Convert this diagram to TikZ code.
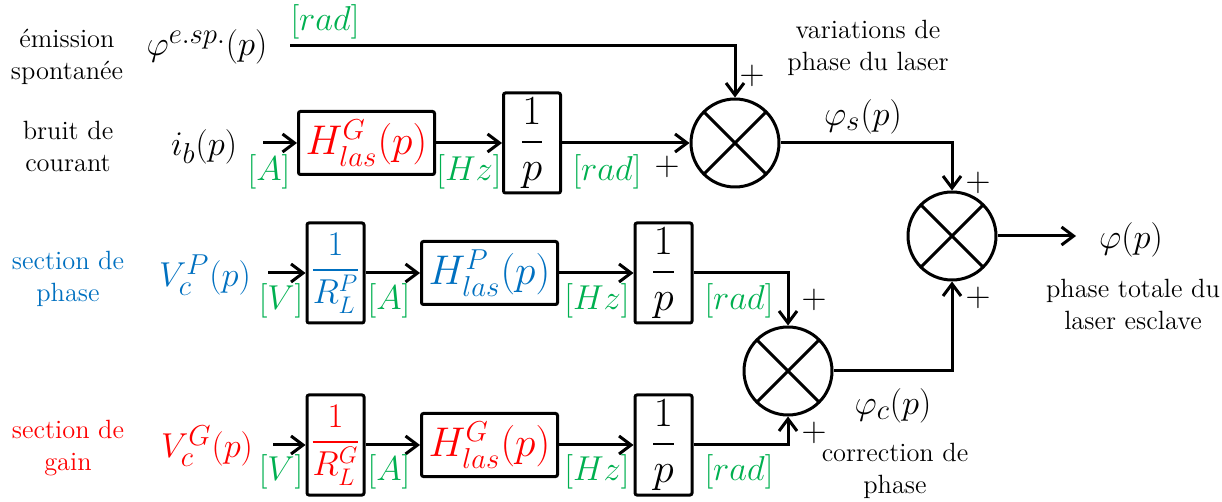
\documentclass[tikz,border=0pt]{standalone}
\usepackage{amsmath}
\usepackage{fontspec}
\usetikzlibrary{arrows.meta,positioning}
\definecolor{unit}{HTML}{00B050}
\definecolor{gain}{HTML}{FF0000}
\definecolor{phase}{HTML}{0070C0}

\begin{document}
\begin{tikzpicture}[
  x=0.5pt, y=-0.5pt,
  line width=1.5pt,
  >={Straight Barb[length=6pt,width=9pt]},
  tbox/.style={draw, rounded corners=1pt, inner sep=0pt, font=\fontsize{20}{24}\selectfont},
  hbox/.style={tbox, minimum width=68pt, minimum height=31.5pt},
  fbox/.style={tbox, minimum width=28.5pt, minimum height=50pt},
  rbox/.style={fbox, font=\fontsize{17.5}{21}\selectfont},
  sum/.style={draw, circle, minimum size=44pt, inner sep=0pt,
              path picture={\draw (path picture bounding box.north west) -- (path picture bounding box.south east)
                                  (path picture bounding box.north east) -- (path picture bounding box.south west);}},
  lbl/.style={font=\rmfamily\fontsize{13.2}{16}\selectfont, align=center},
  sig/.style={font=\fontsize{19}{22}\selectfont, inner sep=1pt},
  ulbl/.style={text=unit, font=\fontsize{19}{22}\selectfont, inner sep=0pt},
  sgn/.style={font=\fontsize{17}{20}\selectfont, inner sep=0pt}
]
  \useasboundingbox (0,0) rectangle (1222,502);

  % descriptions
  \node[lbl] (Lesp) at (67,57) {émission\\spontanée};
  \node[lbl] (Lib) at (68,146) {bruit de\\courant};
  \node[lbl, text=phase] (LP) at (68,279) {section de\\phase};
  \node[lbl, text=gain] (LG) at (68,448) {section de\\gain};
  \node[lbl] (Ls) at (868,48) {variations de\\phase du laser};
  \node[lbl] (Lt) at (1133,304) {phase totale du\\laser esclave};
  \node[lbl] (Lc) at (895,471) {correction de\\phase};

  % signals
  \node[sig] (esp) at (207,47) {$\varphi^{e.sp.}(p)$};
  \node[sig] (ib) at (204,147) {$i_b(p)$};
  \node[sig, text=phase] (VP) at (205,275) {$V_c^P(p)$};
  \node[sig, text=gain] (VG) at (207,446) {$V_c^G(p)$};
  \node[sig] (phis) at (863,117) {$\varphi_s(p)$};
  \node[sig] (phic) at (893,406) {$\varphi_c(p)$};
  \node[sig] (phi) at (1131,240) {$\varphi(p)$};

  % blocks
  \node[hbox, text=gain] (H1) at (366.5,143) {$H_{las}^{G}(p)$};
  \node[fbox] (I1) at (532,143) {$\dfrac{1}{p}$};
  \node[rbox, text=phase] (RP) at (335.5,273) {$\dfrac{1}{R_L^P}$};
  \node[hbox, text=phase] (HP) at (489.5,273) {$H_{las}^{P}(p)$};
  \node[fbox] (IP) at (663.5,273) {$\dfrac{1}{p}$};
  \node[rbox, text=gain] (RG) at (335.5,445) {$\dfrac{1}{R_L^G}$};
  \node[hbox, text=gain] (HG) at (489.5,445) {$H_{las}^{G}(p)$};
  \node[fbox] (IG) at (663.5,445) {$\dfrac{1}{p}$};

  \node[sum] (S1) at (735,143) {};
  \node[sum] (S2) at (788,371) {};
  \node[sum] (S3) at (952,236) {};

  \coordinate (esp0) at (290,46);
  \coordinate (ib0) at (263,143);
  \coordinate (VP0) at (268,273);
  \coordinate (VG0) at (273,445);
  \coordinate (out) at (1076,236);

  % connectors
  \draw[->] (esp0) -| (S1.north);
  \draw[->] (ib0) -- (H1.west);
  \draw[->] (H1) -- (I1);
  \draw[->] (I1) -- (S1);
  \draw[->] (VP0) -- (RP.west);
  \draw[->] (RP) -- (HP);
  \draw[->] (HP) -- (IP);
  \draw[->] (IP) -| (S2);
  \draw[->] (VG0) -- (RG.west);
  \draw[->] (RG) -- (HG);
  \draw[->] (HG) -- (IG);
  \draw[->] (IG) -| (S2);
  \draw[->] (S1) -| (S3);
  \draw[->] (S2) -| (S3);
  \draw[->] (S3) -- (out);

  % units
  \node[ulbl] at (325,22) {$[rad]$};
  \node[ulbl] at (269,172) {$[A]$};
  \node[ulbl] at (469,172) {$[Hz]$};
  \node[ulbl] at (607,172) {$[rad]$};
  \node[ulbl] at (281,301) {$[V]$};
  \node[ulbl] at (389,301) {$[A]$};
  \node[ulbl] at (597,301) {$[Hz]$};
  \node[ulbl] at (739,301) {$[rad]$};
  \node[ulbl] at (281,472) {$[V]$};
  \node[ulbl] at (389,472) {$[A]$};
  \node[ulbl] at (597,472) {$[Hz]$};
  \node[ulbl] at (739,472) {$[rad]$};

  % signs
  \node[sgn] at (752,76) {$+$};
  \node[sgn] at (667,167) {$+$};
  \node[sgn] at (978,183) {$+$};
  \node[sgn] at (978,298) {$+$};
  \node[sgn] at (814,300) {$+$};
  \node[sgn] at (814,433) {$+$};
\end{tikzpicture}
\end{document}
